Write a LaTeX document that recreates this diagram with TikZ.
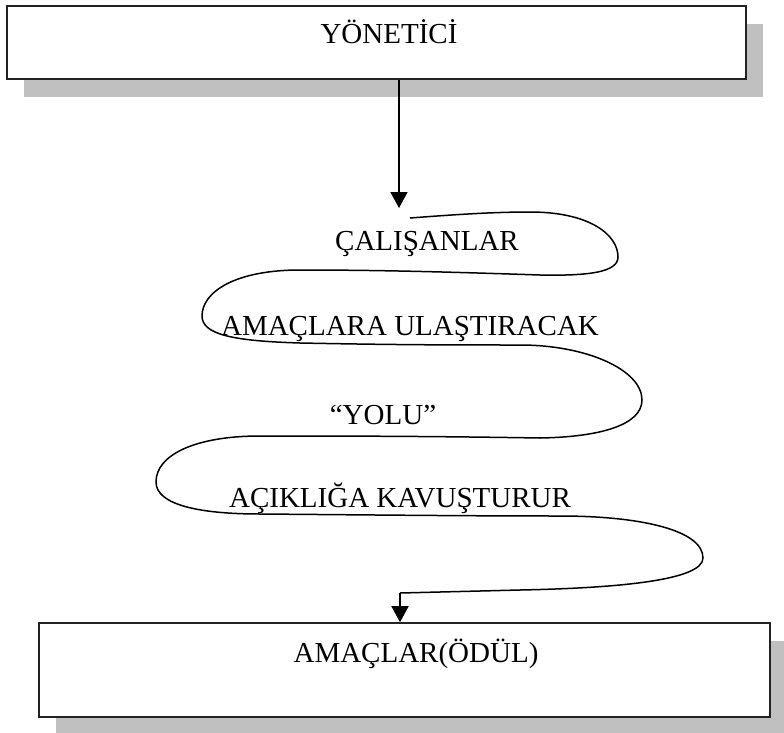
\documentclass[tikz,border=0pt]{standalone}
\usepackage{fontspec}
\setmainfont{Liberation Serif}
\usetikzlibrary{arrows.meta,shadows}
\definecolor{shadowgray}{HTML}{C0C0C0}
\definecolor{inkline}{HTML}{222222}
\tikzset{
  framebox/.style={draw=inkline, line width=1.6pt, fill=white, inner sep=0pt,
    drop shadow={shadow xshift=17pt, shadow yshift=-18pt, fill=shadowgray, opacity=1}},
  caption/.style={anchor=base, inner sep=0pt, font=\fontsize{29pt}{34pt}\selectfont},
  flow/.style={draw=black, line width=1.8pt, -{Triangle[width=17pt,length=16pt]}},
  winding/.style={draw=black, line width=1.5pt},
}
\begin{document}
\begin{tikzpicture}[x=1pt, y=-1pt]
\useasboundingbox (0,0) rectangle (784,733);

% boxes
\node[framebox, minimum width=739pt, minimum height=73pt] (boss) at (376.5,42.5) {};
\node[framebox, minimum width=731pt, minimum height=94pt] (goal) at (404.5,670) {};

% box texts
\node[caption] (bosstext) at (389,44) {YÖNETİCİ};
\node[caption] (goaltext) at (416,662) {AMAÇLAR(ÖDÜL)};

% texts along the winding path
\node[caption] (t1) at (427,250) {ÇALIŞANLAR};
\node[caption] (t2) at (410,335) {AMAÇLARA ULAŞTIRACAK};
\node[caption] (t3) at (383,424) {“YOLU”};
\node[caption] (t4) at (400,507) {AÇIKLIĞA KAVUŞTURUR};

% arrow from the manager box
\coordinate (downtip) at (399,208);
\draw[flow] (boss.south -| downtip) -- (downtip);

% winding path
\coordinate (wstart) at (410,218);
\coordinate (wend) at (400,593);
\draw[winding, line join=round]
  (wstart) .. controls (450,215) and (490,212) .. (530,212)
  .. controls (590,212) and (618,235) .. (618,257)
  .. controls (618,272) and (590,276) .. (540,275)
  .. controls (450,272) and (380,270) .. (300,270)
  .. controls (235,270) and (202,292) .. (202,316)
  .. controls (202,335) and (235,341) .. (300,343)
  .. controls (400,345) and (460,345) .. (520,345)
  .. controls (587,345) and (642,370) .. (642,400)
  .. controls (642,425) and (600,437) .. (540,438)
  .. controls (420,436) and (330,436) .. (260,436)
  .. controls (195,436) and (156,455) .. (156,482)
  .. controls (156,505) and (200,514) .. (260,514)
  .. controls (380,515) and (470,516) .. (560,516)
  .. controls (640,516) and (703,530) .. (703,558)
  .. controls (703,580) and (620,588) .. (520,590)
  -- (wend);

% arrow into the goal box
\draw[flow] (wend) -- (wend |- goal.north);
\end{tikzpicture}
\end{document}
